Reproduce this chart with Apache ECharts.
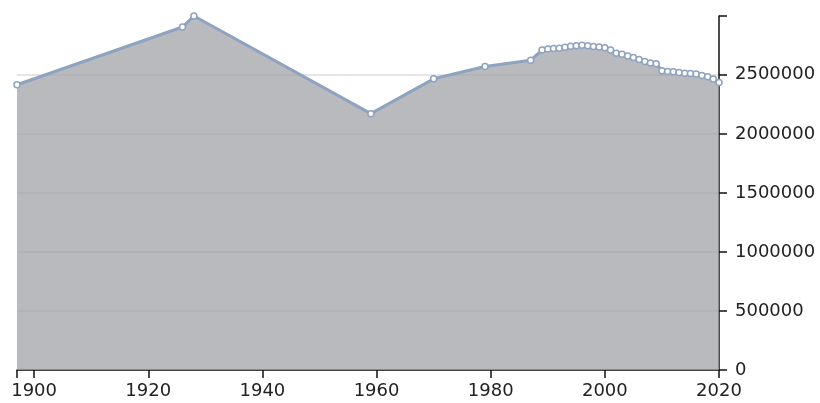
<!DOCTYPE html>
<html>
<head>
<meta charset="utf-8">
<script src="https://cdn.jsdelivr.net/npm/echarts@6/dist/echarts.min.js"></script>
<style>
html,body{margin:0;padding:0;background:#fff;}
#c{width:820px;height:403px;}
</style>
</head>
<body>
<div id="c"></div>
<script>
var years = [1897, 1926, 1928, 1959, 1970, 1979, 1987,
  1989, 1990, 1991, 1992, 1993, 1994, 1995, 1996, 1997, 1998, 1999,
  2000, 2001, 2002, 2003, 2004, 2005, 2006, 2007, 2008, 2009,
  2010, 2011, 2012, 2013, 2014, 2015, 2016, 2017, 2018, 2019, 2020];
var population = [2416000, 2905000, 2998000, 2171000, 2466000, 2570000, 2624000,
  2709000, 2719000, 2722000, 2725000, 2734000, 2742000, 2747000, 2751000, 2745000, 2739000, 2736000,
  2730000, 2709000, 2683000, 2675000, 2660000, 2646000, 2629000, 2612000, 2601000, 2593000,
  2534000, 2528000, 2525000, 2519000, 2514000, 2511000, 2506000, 2494000, 2483000, 2464000, 2435000];
var xTickValues = [1897, 1900, 1920, 1940, 1960, 1980, 2000, 2020];
var xLabelValues = [1900, 1920, 1940, 1960, 1980, 2000, 2020];
var yLabelStep = 500000;

var data = years.map(function (y, i) { return [y, population[i]]; });
var chart = echarts.init(document.getElementById('c'));
var font = 'DejaVu Sans';
chart.setOption({
  animation: false,
  grid: { left: 17, right: 101, top: 16, bottom: 33, containLabel: false },
  xAxis: {
    type: 'value',
    min: years[0],
    max: years[years.length - 1],
    axisLine: { show: true, onZero: false, lineStyle: { color: '#111', width: 1.5 } },
    axisTick: { show: true, length: 8, lineStyle: { color: '#111', width: 1.5 }, customValues: xTickValues },
    axisLabel: {
      customValues: xLabelValues, color: '#222', fontFamily: font, fontSize: 18, margin: 12,
      formatter: function (v) { return String(v); }
    },
    splitLine: { show: false }
  },
  yAxis: {
    type: 'value',
    position: 'right',
    min: 0,
    max: 'dataMax',
    interval: yLabelStep,
    axisLine: { show: true, lineStyle: { color: '#111', width: 1.5 } },
    axisTick: { show: true, length: 8, lineStyle: { color: '#111', width: 1.5 } },
    axisLabel: {
      color: '#222', fontFamily: font, fontSize: 18, margin: 16,
      formatter: function (v) { return (v % yLabelStep === 0) ? String(v) : ''; }
    },
    splitLine: { show: true, showMaxLine: false, lineStyle: { color: '#dedede', width: 1.5 } }
  },
  series: [{
    type: 'line',
    data: data,
    symbol: 'circle',
    symbolSize: 6,
    showAllSymbol: true,
    lineStyle: { color: '#8ea3c0', width: 3 },
    itemStyle: { color: '#ffffff', borderColor: '#8ea3c0', borderWidth: 1.5 },
    areaStyle: { color: 'rgba(158,161,166,0.73)', opacity: 1 }
  }]
});
</script>
</body>
</html>
